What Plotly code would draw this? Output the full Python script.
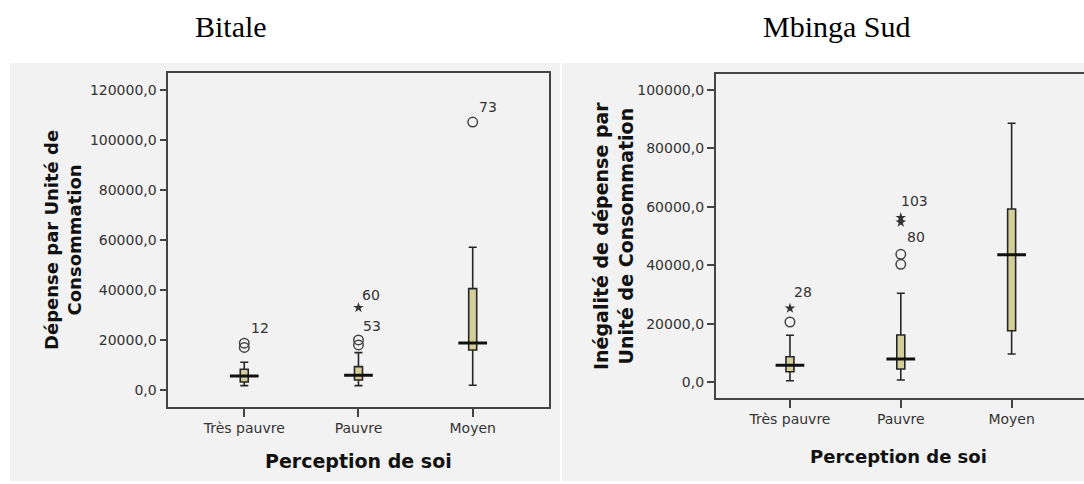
import plotly.graph_objects as go

W, H = 1084, 484

# ---------------- data ----------------
categories = ["Très pauvre", "Pauvre", "Moyen"]
cat_index = [0, 1, 2]

y_tickvals_left = [0, 20000, 40000, 60000, 80000, 100000, 120000]
y_ticktext_left = ["0,0", "20000,0", "40000,0", "60000,0", "80000,0", "100000,0", "120000,0"]
y_tickvals_right = [0, 20000, 40000, 60000, 80000, 100000]
y_ticktext_right = ["0,0", "20000,0", "40000,0", "60000,0", "80000,0", "100000,0"]

# Bitale
bit_low = [1730, 1730, 1870]
bit_q1 = [3200, 4000, 16000]
bit_med = [5600, 5870, 18800]
bit_q3 = [8270, 9330, 40530]
bit_high = [11080, 14930, 57070]
bit_circ_x = [0, 0, 1, 1, 2]
bit_circ_y = [18700, 17000, 20000, 18000, 107200]
bit_star_x = [1]
bit_star_y = [32930]
bit_lab_x = [0, 1, 1, 2]
bit_lab_y = [18700, 20000, 32930, 107200]
bit_lab_text = ["12", "53", "60", "73"]

# Mbinga Sud
mbs_low = [550, 790, 9680]
mbs_q1 = [3630, 4550, 17650]
mbs_med = [5815, 7970, 43650]
mbs_q3 = [8760, 16180, 59290]
mbs_high = [16080, 30450, 88600]
mbs_circ_x = [0, 1, 1]
mbs_circ_y = [20630, 43790, 40370]
mbs_star_x = [0, 1, 1]
mbs_star_y = [25320, 56310, 54740]
mbs_lab_x = [0, 1, 1]
mbs_lab_y = [25320, 56310, 54740]
mbs_lab_text = ["28", "103", "80"]

titles = ["Bitale", "Mbinga Sud"]
x_title = "Perception de soi"
y_title_left = "Dépense par Unité de<br>Consommation"
y_title_right = "Inégalité de dépense par<br>Unité de Consommation"

# label offsets (pixels) — styling
bit_lab_shift = [(16, 15), (14, 14), (13, 13), (15, 15)]
mbs_lab_shift = [(13, 16), (14, 17), (15, -15)]

# ---------------- style ----------------
BOX_FILL = "#d4cf98"
BOX_LINE = "#262626"
AX = "#444444"
TXT = "#333333"
SANS = "DejaVu Sans"

fig = go.Figure()


def add_panel(xa, ya, low, q1, med, q3, high, cx, cy, sx, sy, width):
    fig.add_trace(go.Box(
        x=cat_index, lowerfence=low, q1=q1, median=med, q3=q3, upperfence=high,
        xaxis=xa, yaxis=ya, width=width, whiskerwidth=1,
        fillcolor=BOX_FILL, line=dict(color=BOX_LINE, width=1.6),
        boxpoints=False, showlegend=False, hoverinfo="skip"))
    fig.add_trace(go.Scatter(
        x=cat_index, y=med, mode="markers", xaxis=xa, yaxis=ya,
        marker=dict(symbol="line-ew-open", size=20.5, color="#111111",
                    line=dict(color="#111111", width=3)),
        showlegend=False, hoverinfo="skip"))
    fig.add_trace(go.Scatter(
        x=cx, y=cy, mode="markers", xaxis=xa, yaxis=ya,
        marker=dict(symbol="circle-open", size=9.5, color="#444444",
                    line=dict(color="#444444", width=1.5)),
        showlegend=False, hoverinfo="skip"))
    fig.add_trace(go.Scatter(
        x=sx, y=sy, mode="markers", xaxis=xa, yaxis=ya,
        marker=dict(symbol="star", size=8, color="#333333",
                    line=dict(width=0)),
        showlegend=False, hoverinfo="skip"))


add_panel("x", "y", bit_low, bit_q1, bit_med, bit_q3, bit_high,
          bit_circ_x, bit_circ_y, bit_star_x, bit_star_y, 0.07)
add_panel("x2", "y2", mbs_low, mbs_q1, mbs_med, mbs_q3, mbs_high,
          mbs_circ_x, mbs_circ_y, mbs_star_x, mbs_star_y, 0.072)

annotations = []
for xv, yv, t, (dx, dy) in zip(bit_lab_x, bit_lab_y, bit_lab_text, bit_lab_shift):
    annotations.append(dict(x=xv, y=yv, xref="x", yref="y", text=t, showarrow=False,
                            xshift=dx, yshift=dy, font=dict(family=SANS, size=14, color=TXT)))
for xv, yv, t, (dx, dy) in zip(mbs_lab_x, mbs_lab_y, mbs_lab_text, mbs_lab_shift):
    annotations.append(dict(x=xv, y=yv, xref="x2", yref="y2", text=t, showarrow=False,
                            xshift=dx, yshift=dy, font=dict(family=SANS, size=14, color=TXT)))


def px(x):
    return x / W


def py(y):
    return 1 - y / H


# panel titles
annotations.append(dict(x=px(231), y=py(26), xref="paper", yref="paper", text=titles[0],
                        showarrow=False, xanchor="center", yanchor="middle",
                        font=dict(family="Liberation Serif", size=30, color="#000000")))
annotations.append(dict(x=px(837), y=py(26), xref="paper", yref="paper", text=titles[1],
                        showarrow=False, xanchor="center", yanchor="middle",
                        font=dict(family="Liberation Serif", size=30, color="#000000")))
# axis titles
annotations.append(dict(x=px(358), y=py(461), xref="paper", yref="paper", text="<b>%s</b>" % x_title,
                        showarrow=False, xanchor="center", yanchor="middle",
                        font=dict(family=SANS, size=19, color="#111111")))
annotations.append(dict(x=px(898), y=py(456), xref="paper", yref="paper", text="<b>%s</b>" % x_title,
                        showarrow=False, xanchor="center", yanchor="middle",
                        font=dict(family=SANS, size=18, color="#111111")))
annotations.append(dict(x=px(63), y=py(240), xref="paper", yref="paper", text="<b>%s</b>" % y_title_left,
                        showarrow=False, xanchor="center", yanchor="middle", textangle=-90,
                        font=dict(family=SANS, size=18, color="#111111")))
annotations.append(dict(x=px(614), y=py(236), xref="paper", yref="paper", text="<b>%s</b>" % y_title_right,
                        showarrow=False, xanchor="center", yanchor="middle", textangle=-90,
                        font=dict(family=SANS, size=19, color="#111111")))

shapes = [
    dict(type="rect", xref="paper", yref="paper", x0=px(10), x1=px(560), y0=py(481), y1=py(63),
         fillcolor="#f2f2f2", line=dict(width=0), layer="below"),
    dict(type="rect", xref="paper", yref="paper", x0=px(562), x1=px(1084), y0=py(481), y1=py(63),
         fillcolor="#f2f2f2", line=dict(width=0), layer="below"),
]

tickfont_l = dict(family=SANS, size=14, color=TXT)
tickfont_r = dict(family=SANS, size=14, color=TXT)

fig.update_layout(
    width=W, height=H,
    margin=dict(l=0, r=0, t=0, b=0),
    paper_bgcolor="#ffffff",
    plot_bgcolor="#e3e3e3",
    showlegend=False,
    annotations=annotations,
    shapes=shapes,
    xaxis=dict(domain=[px(168.3), px(549)], range=[-0.665, 2.668],
               tickvals=cat_index, ticktext=categories, tickfont=tickfont_l,
               showgrid=False, zeroline=False, showline=True, mirror=True,
               linecolor=AX, linewidth=1.6, ticks="outside", ticklen=8, tickwidth=1.5,
               tickcolor=AX, fixedrange=True),
    yaxis=dict(domain=[py(406.7), py(73.3)], range=[-6700, 126700],
               tickvals=y_tickvals_left, ticktext=y_ticktext_left, tickfont=tickfont_l,
               showgrid=False, zeroline=False, showline=True, mirror=True,
               linecolor=AX, linewidth=1.6, ticks="outside", ticklen=7, tickwidth=1.5,
               tickcolor=AX, fixedrange=True),
    xaxis2=dict(domain=[px(715.7), 1.0], range=[-0.67, 2.653], anchor="y2",
                tickvals=cat_index, ticktext=categories, tickfont=tickfont_r,
                showgrid=False, zeroline=False, showline=True, mirror=True,
                linecolor=AX, linewidth=1.6, ticks="outside", ticklen=8, tickwidth=1.5,
                tickcolor=AX, fixedrange=True),
    yaxis2=dict(domain=[py(397.7), py(74.3)], range=[-5270, 105370], anchor="x2",
                tickvals=y_tickvals_right, ticktext=y_ticktext_right, tickfont=tickfont_r,
                showgrid=False, zeroline=False, showline=True, mirror=False,
                linecolor=AX, linewidth=1.6, ticks="outside", ticklen=7, tickwidth=1.5,
                tickcolor=AX, fixedrange=True),
)

fig.write_html("out.html", config={"displayModeBar": False},
               post_script="document.body.style.margin='0px';")
